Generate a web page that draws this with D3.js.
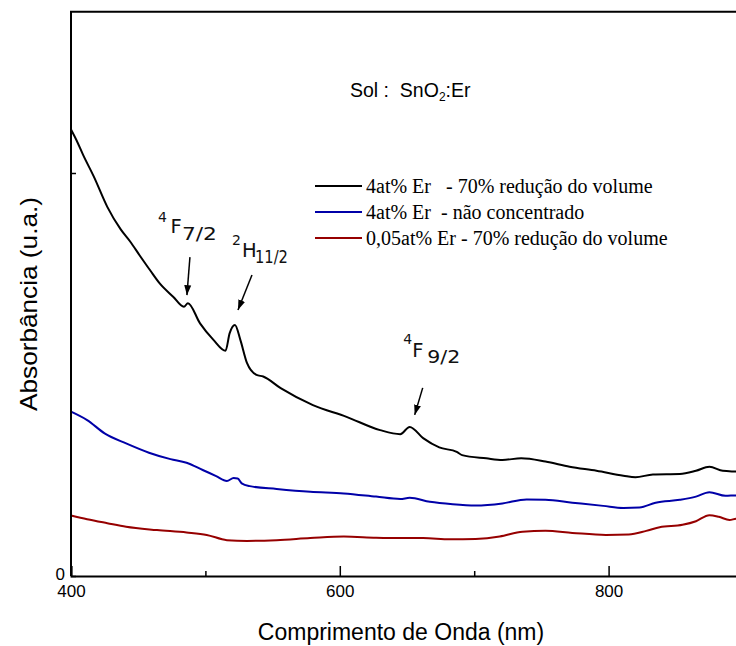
<!DOCTYPE html>
<html><head><meta charset="utf-8">
<script src="https://cdn.jsdelivr.net/npm/d3@7/dist/d3.min.js"></script>
<style>body{margin:0;background:#fff;overflow:hidden}</style>
</head><body>
<svg id="chart" width="736" height="646"></svg>
<script>
// ---- data ----
const seriesNames = ["4at% Er   - 70% redução do volume", "4at% Er  - não concentrado", "0,05at% Er - 70% redução do volume"];
const seriesColors = ["#000000", "#0000a8", "#960000"];

const blackX = [400,404,409,417,427,437,444,451,459,466,476,484,487,496,506,515,518,522,526,531,538,543,556,580,605,630,645,652,662,674,687,691,709,721,735,753,771,791,811,820,833,853,865,875,885,895,900];
const blackY = [1.108,1.082,1.045,0.991,0.916,0.860,0.830,0.796,0.758,0.726,0.693,0.668,0.677,0.627,0.586,0.559,0.602,0.623,0.586,0.528,0.499,0.495,0.466,0.424,0.395,0.362,0.352,0.370,0.342,0.319,0.308,0.300,0.292,0.288,0.292,0.284,0.271,0.261,0.249,0.245,0.252,0.253,0.261,0.271,0.261,0.259,0.258];

const blueX = [400,412,425,441,458,474,486,498,508,516,521,524,527,533,553,578,603,627,645,652,667,684,701,721,739,753,773,796,811,823,835,853,865,875,887,895,900];
const blueY = [0.408,0.387,0.354,0.329,0.306,0.290,0.281,0.263,0.248,0.236,0.243,0.242,0.230,0.223,0.216,0.209,0.205,0.197,0.191,0.194,0.184,0.178,0.175,0.180,0.190,0.189,0.182,0.174,0.169,0.170,0.182,0.189,0.197,0.208,0.199,0.200,0.200];

const redX = [400,412,427,441,464,486,501,516,531,553,578,603,627,645,662,682,701,719,736,753,773,798,815,828,838,855,865,875,882,890,895,900];
const redY = [0.150,0.141,0.131,0.122,0.114,0.108,0.102,0.089,0.087,0.089,0.094,0.098,0.095,0.094,0.094,0.091,0.092,0.098,0.110,0.112,0.107,0.102,0.103,0.112,0.121,0.127,0.136,0.151,0.147,0.139,0.142,0.141];

const xMajorTicks = [400, 600, 800];
const xMinorTicks = [500, 700, 900];
const yTicks = [0, 1];
const yTickLabels = ["0", ""];

// peak annotations
const peakNm = [487, 522, 652];
const peakAbs = [0.677, 0.623, 0.370];
const peakSup = ["4", "2", "4"];
const peakTerm = ["F", "H", "F"];
const peakSub = ["7/2", "11/2", "9/2"];

// ---- drawing ----
const svg = d3.select("#chart");
const x = d3.scaleLinear().domain([400, 900]).range([71, 743]);
const y = d3.scaleLinear().domain([0, 1]).range([576, 173]);
const yTop = 1.4;
const sans = "Arial, 'Liberation Sans', sans-serif";

const series = [
  {x: blackX, y: blackY},
  {x: blueX, y: blueY},
  {x: redX, y: redY}
];

const line = d3.line().x(d => d[0]).y(d => d[1]).curve(d3.curveMonotoneX);

series.forEach((s, i) => {
  const pts = s.x.map((v, j) => [x(v), y(s.y[j])]);
  svg.append("path").attr("d", line(pts))
    .attr("fill", "none").attr("stroke", seriesColors[i])
    .attr("stroke-width", 2).attr("stroke-linejoin", "round");
});

// frame
svg.append("path")
  .attr("d", `M${x(400)},${y(0)}V${y(yTop)}H${x(900)}`)
  .attr("fill", "none").attr("stroke", "#000").attr("stroke-width", 2);

// x axis
const gx = svg.append("g").attr("transform", `translate(0,${y(0)})`);
gx.call(d3.axisBottom(x).tickValues(xMajorTicks).tickSize(-10).tickPadding(9).tickFormat(d3.format("d")));
gx.append("g").call(d3.axisBottom(x).tickValues(xMinorTicks).tickSize(-5).tickFormat(""));
gx.selectAll(".domain").attr("stroke-width", 2);
gx.selectAll(".tick line").attr("stroke-width", 1.5);
gx.selectAll("text").attr("font-family", sans).attr("font-size", 17).attr("fill", "#000");
gx.selectAll("g g .domain").remove();

// y axis
const gy = svg.append("g").attr("transform", `translate(${x(400)},0)`);
gy.call(d3.axisLeft(y).tickValues(yTicks).tickSize(-5).tickPadding(6).tickFormat((d, i) => yTickLabels[i]));
gy.selectAll(".domain").remove();
gy.selectAll(".tick line").attr("stroke-width", 1.5);
gy.selectAll("text").attr("font-family", sans).attr("font-size", 17).attr("fill", "#000").attr("dy", "0.2em");

// axis titles
svg.append("text").attr("x", 401).attr("y", 640).attr("text-anchor", "middle")
  .attr("font-family", sans).attr("font-size", 23)
  .text("Comprimento de Onda (nm)");
svg.append("text").attr("transform", "translate(37,304) rotate(-90)").attr("text-anchor", "middle")
  .attr("font-family", sans).attr("font-size", 24)
  .attr("textLength", 214).attr("lengthAdjust", "spacingAndGlyphs")
  .text("Absorbância (u.a.)");

// sample label
const sol = svg.append("text").attr("x", 350).attr("y", 97)
  .attr("font-family", sans).attr("font-size", 19.5).style("white-space", "pre");
sol.append("tspan").text("Sol :  SnO");
sol.append("tspan").attr("font-size", 12).attr("dy", 4).text("2");
sol.append("tspan").attr("dy", -4).text(":Er");

// legend
const legend = svg.append("g").attr("transform", "translate(315,186)");
seriesNames.forEach((name, i) => {
  const g = legend.append("g").attr("transform", `translate(0,${i * 26})`);
  g.append("line").attr("x1", 0).attr("x2", 47).attr("y1", 0).attr("y2", 0)
    .attr("stroke", seriesColors[i]).attr("stroke-width", 2);
  g.append("text").attr("x", 51).attr("y", 6.5)
    .attr("font-family", "'Times New Roman', 'Liberation Serif', serif").attr("font-size", 20)
    .style("white-space", "pre")
    .text(name);
});

// annotations
const defs = svg.append("defs");
defs.append("marker").attr("id", "ah").attr("viewBox", "0 0 10 10").attr("refX", 10).attr("refY", 5)
  .attr("markerWidth", 10).attr("markerHeight", 10).attr("markerUnits", "userSpaceOnUse")
  .attr("orient", "auto")
  .append("path").attr("d", "M0,1.5L10,5L0,8.5Z").attr("fill", "#000");

const arrowFrom = [[2, -46], [17, -50], [13, -39]];
const arrowTo = [[-1, -8], [3, -15], [5, -12]];
const supOff = [[-30, -81], [-3, -80], [-6.5, -83]];
const termOff = [[-17.5, -70], [7, -68], [2.5, -70]];
const subOff = [[-6, -63], [20, -62], [17.5, -64]];
const subLen = [35, 33, 33];

peakNm.forEach((nm, i) => {
  const px = x(nm), py = y(peakAbs[i]);
  svg.append("line")
    .attr("x1", px + arrowFrom[i][0]).attr("y1", py + arrowFrom[i][1])
    .attr("x2", px + arrowTo[i][0]).attr("y2", py + arrowTo[i][1])
    .attr("stroke", "#000").attr("stroke-width", 1.5).attr("marker-end", "url(#ah)");
  const g = svg.append("g").attr("font-family", "'DejaVu Sans', sans-serif").attr("fill", "#111");
  g.append("text").attr("x", px + supOff[i][0]).attr("y", py + supOff[i][1])
    .attr("font-size", 14).text(peakSup[i]);
  g.append("text").attr("x", px + termOff[i][0]).attr("y", py + termOff[i][1])
    .attr("font-size", 19.5).text(peakTerm[i]);
  g.append("text").attr("x", px + subOff[i][0]).attr("y", py + subOff[i][1])
    .attr("font-size", 17).attr("textLength", subLen[i]).attr("lengthAdjust", "spacingAndGlyphs")
    .text(peakSub[i]);
});
</script>
</body></html>
